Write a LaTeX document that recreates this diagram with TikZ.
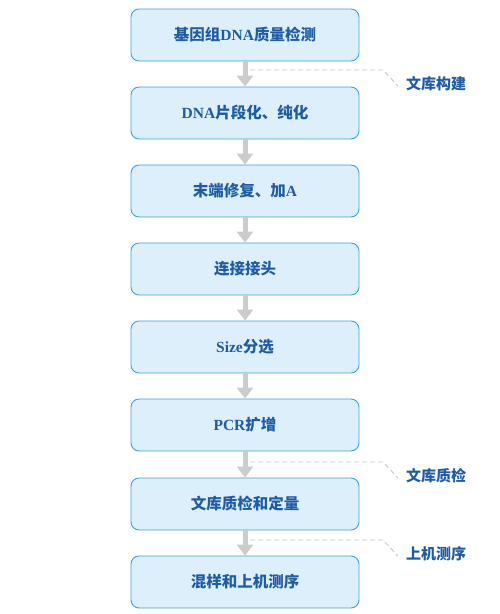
\documentclass[tikz,border=0pt]{standalone}
\usepackage{fontspec}
\setmainfont{Liberation Serif}
\newfontfamily\cjk{Noto Sans CJK SC}
\usetikzlibrary{arrows.meta}
\definecolor{boxfill}{HTML}{DDEFFA}
\definecolor{boxline}{HTML}{3AA3DD}
\definecolor{txt}{HTML}{1F5CA6}
\definecolor{arr}{HTML}{CCCCCC}
\definecolor{dsh}{HTML}{C8C8C8}
\begin{document}
\begin{tikzpicture}[x=1pt,y=-1pt,
  stepbox/.style={draw=boxline,fill=boxfill,line width=0.9pt,rounded corners=8pt,
    minimum width=228pt,minimum height=52pt,inner sep=0pt,
    font=\fontsize{15.5}{17}\selectfont\bfseries\cjk,text=txt},
  flow/.style={draw=arr,line width=5pt,-{Triangle[width=16pt,length=11pt]}},
  guide/.style={draw=dsh,line width=0.9pt,dash pattern=on 5pt off 3pt},
  lab/.style={anchor=west,inner sep=0pt,font=\fontsize{15}{17}\selectfont\bfseries\cjk,text=txt}]
\useasboundingbox (0,0) rectangle (499,614);
\node[stepbox] (s1) at (245,35) {基因组{\rmfamily\bfseries DNA}质量检测};
\node[stepbox] (s2) at (245,113) {{\rmfamily\bfseries DNA}片段化、纯化};
\node[stepbox] (s3) at (245,191) {末端修复、加{\rmfamily\bfseries A}};
\node[stepbox] (s4) at (245,269) {连接接头};
\node[stepbox] (s5) at (245,347) {{\rmfamily\bfseries Size}分选};
\node[stepbox] (s6) at (245,425) {{\rmfamily\bfseries PCR}扩增};
\node[stepbox] (s7) at (245,504) {文库质检和定量};
\node[stepbox] (s8) at (245,582) {混样和上机测序};
\foreach \a/\b in {s1/s2,s2/s3,s3/s4,s4/s5,s5/s6,s6/s7,s7/s8}
  \draw[flow] (\a.south) -- (\b.north);
\node[lab] (l1) at (406,84) {文库构建};
\node[lab] (l2) at (406,476) {文库质检};
\node[lab] (l3) at (406,554) {上机测序};
\coordinate (g1) at (250,70);
\coordinate (g2) at (250,462);
\coordinate (g3) at (250,540);
\draw[guide] (g1) -- (383,70) -- ([xshift=-8pt,yshift=-2pt]l1.west);
\draw[guide] (g2) -- (383,462) -- ([xshift=-8pt,yshift=-2pt]l2.west);
\draw[guide] (g3) -- (383,540) -- ([xshift=-8pt,yshift=-2pt]l3.west);
\end{tikzpicture}
\end{document}
